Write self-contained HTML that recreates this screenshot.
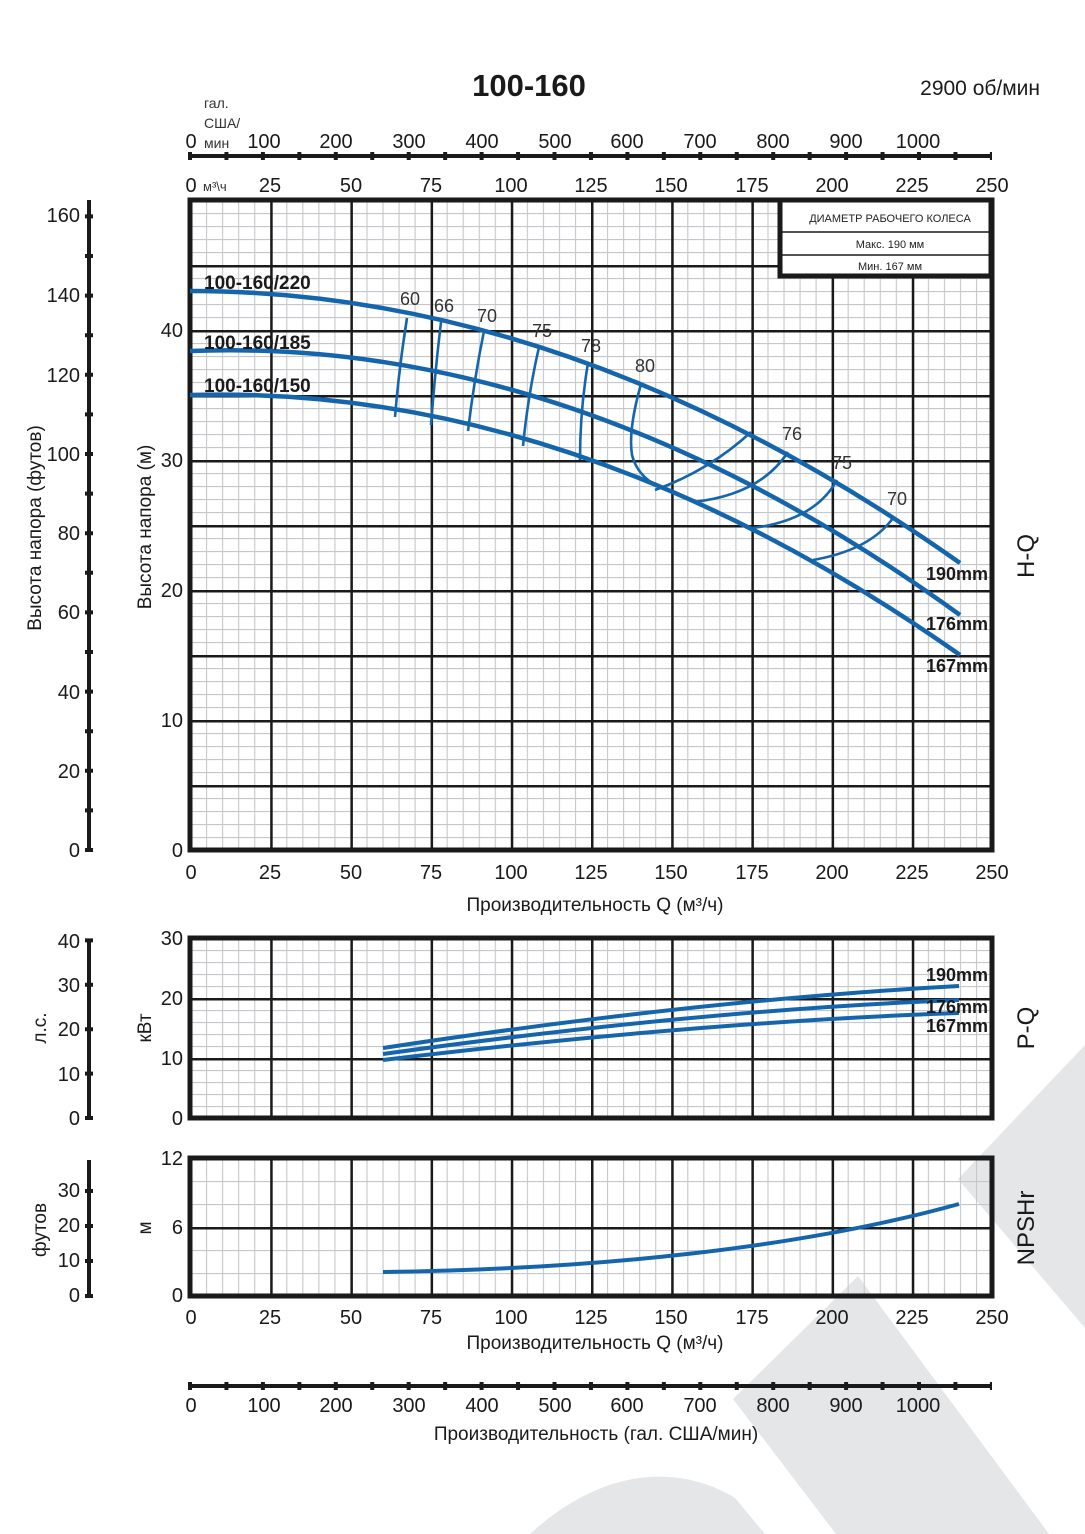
<!DOCTYPE html>
<html><head><meta charset="utf-8"><style>
html,body{margin:0;padding:0;background:#fff;}
svg{display:block;font-family:"Liberation Sans",sans-serif;}
</style></head><body>
<svg width="1085" height="1534" viewBox="0 0 1085 1534" xmlns="http://www.w3.org/2000/svg">
<defs>
<pattern id="thinA" patternUnits="userSpaceOnUse" x="190" y="200" width="16.04" height="13"><path d="M0 0V13M0 0H16.04" stroke="#c6c7cb" stroke-width="2.2" fill="none"/></pattern>
<pattern id="thickA" patternUnits="userSpaceOnUse" x="190" y="200" width="80.2" height="65"><path d="M0 0V65M0 0H80.2" stroke="#1a1a1a" stroke-width="5" fill="none"/></pattern>
<pattern id="thinB" patternUnits="userSpaceOnUse" x="190" y="938" width="16.04" height="12"><path d="M0 0V12M0 0H16.04" stroke="#c6c7cb" stroke-width="2.2" fill="none"/></pattern>
<pattern id="thickB" patternUnits="userSpaceOnUse" x="190" y="938" width="80.2" height="60"><path d="M0 0V60M0 0H80.2" stroke="#1a1a1a" stroke-width="5" fill="none"/></pattern>
<pattern id="thinC" patternUnits="userSpaceOnUse" x="190" y="1158" width="16.04" height="23"><path d="M0 0V23M0 0H16.04" stroke="#c6c7cb" stroke-width="2.2" fill="none"/></pattern>
<pattern id="thickC" patternUnits="userSpaceOnUse" x="190" y="1158" width="80.2" height="69"><path d="M0 0V69M0 0H80.2" stroke="#1a1a1a" stroke-width="5" fill="none"/></pattern>
</defs>

<!-- watermark -->
<g fill="#e5e6e8">
<polygon points="1085,1045 958,1179 1085,1328"/>
<polygon points="858,1276 733,1399 836,1534 1049,1534"/>
<path d="M530,1534 C600,1470 675,1462 735,1498 L765,1534 Z"/>
</g>

<!-- titles -->
<text x="529" y="96" font-size="31" font-weight="bold" text-anchor="middle" fill="#1a1a1a">100-160</text>
<text x="1040" y="95" font-size="21" text-anchor="end" fill="#1a1a1a">2900 об/мин</text>

<!-- top gal axis -->
<g fill="#333" font-size="14"><text x="204" y="108">гал.</text><text x="204" y="128">США/</text><text x="204" y="148">мин</text></g>
<line x1="188" y1="156" x2="992" y2="156" stroke="#1a1a1a" stroke-width="4"/>
<line x1="188" y1="156" x2="992" y2="156" stroke="#1a1a1a" stroke-width="8" stroke-dasharray="4 32.45"/>
<g font-size="20" fill="#1a1a1a" text-anchor="middle">
<text x="191" y="148">0</text><text x="264" y="148">100</text><text x="336" y="148">200</text><text x="409" y="148">300</text><text x="482" y="148">400</text><text x="555" y="148">500</text><text x="627" y="148">600</text><text x="700" y="148">700</text><text x="773" y="148">800</text><text x="846" y="148">900</text><text x="918" y="148">1000</text>
</g>
<g font-size="20" fill="#1a1a1a" text-anchor="middle">
<text x="191" y="192">0</text><text x="270" y="192">25</text><text x="351" y="192">50</text><text x="431" y="192">75</text><text x="511" y="192">100</text><text x="591" y="192">125</text><text x="671" y="192">150</text><text x="752" y="192">175</text><text x="832" y="192">200</text><text x="912" y="192">225</text><text x="992" y="192">250</text>
</g>
<text x="203" y="191" font-size="13" fill="#333">м³\ч</text>

<!-- main chart grid -->
<rect x="190" y="200" width="802" height="650" fill="url(#thinA)"/>
<rect x="190" y="200" width="802" height="650" fill="url(#thickA)"/>
<rect x="190" y="200" width="802" height="650" fill="none" stroke="#1a1a1a" stroke-width="5"/>

<!-- legend box -->
<rect x="780" y="200" width="211" height="76" fill="#fff" stroke="#1a1a1a" stroke-width="5"/>
<line x1="782" y1="232" x2="989" y2="232" stroke="#1a1a1a" stroke-width="1.5"/>
<line x1="782" y1="255" x2="989" y2="255" stroke="#1a1a1a" stroke-width="1.5"/>
<g font-size="11" fill="#222" text-anchor="middle">
<text x="890" y="222">ДИАМЕТР РАБОЧЕГО КОЛЕСА</text>
<text x="890" y="248">Макс. 190 мм</text>
<text x="890" y="270">Мин. 167 мм</text>
</g>

<!-- left feet axis -->
<line x1="89" y1="200" x2="89" y2="852" stroke="#1a1a1a" stroke-width="4"/>
<line x1="89" y1="852" x2="89" y2="200" stroke="#1a1a1a" stroke-width="8" stroke-dasharray="4 35.6"/>
<g font-size="20" fill="#1a1a1a" text-anchor="end">
<text x="80" y="857">0</text><text x="80" y="778">20</text><text x="80" y="699">40</text><text x="80" y="619">60</text><text x="80" y="540">80</text><text x="80" y="461">100</text><text x="80" y="382">120</text><text x="80" y="302">140</text><text x="80" y="222">160</text>
</g>
<text transform="translate(41,528) rotate(-90)" font-size="19" fill="#1a1a1a" text-anchor="middle">Высота напора (футов)</text>
<g font-size="20" fill="#1a1a1a" text-anchor="end">
<text x="183" y="857">0</text><text x="183" y="727">10</text><text x="183" y="597">20</text><text x="183" y="467">30</text><text x="183" y="337">40</text>
</g>
<text transform="translate(151,527) rotate(-90)" font-size="19" fill="#1a1a1a" text-anchor="middle">Высота напора (м)</text>
<g font-size="20" fill="#1a1a1a" text-anchor="middle">
<text x="191" y="879">0</text><text x="270" y="879">25</text><text x="351" y="879">50</text><text x="431" y="879">75</text><text x="511" y="879">100</text><text x="591" y="879">125</text><text x="671" y="879">150</text><text x="752" y="879">175</text><text x="832" y="879">200</text><text x="912" y="879">225</text><text x="992" y="879">250</text>
</g>
<text x="595" y="911" font-size="19" fill="#1a1a1a" text-anchor="middle">Производительность Q (м³/ч)</text>
<text transform="translate(1034,556) rotate(-90)" font-size="24" fill="#1a1a1a" text-anchor="middle">H-Q</text>

<!-- efficiency lines -->
<g stroke="#1565ad" stroke-width="2.6" fill="none">
<path d="M407,318 Q399,368 395,417"/>
<path d="M441,322 Q435,372 431,425"/>
<path d="M484,331 Q474,380 468,431"/>
<path d="M539,347 Q528,395 523,446"/>
<path d="M588,363 Q580,410 580,460"/>
<path d="M641,384 Q628,430 632,455 Q638,478 662,488"/>
<path d="M655,490 Q710,470 751,432"/>
<path d="M693,502 Q760,495 788,452"/>
<path d="M753,528 Q815,520 837,480"/>
<path d="M813,560 Q870,550 893,518"/>
</g>
<g font-size="18" fill="#333" text-anchor="middle">
<text x="410" y="305">60</text><text x="444" y="312">66</text><text x="487" y="322">70</text><text x="542" y="337">75</text><text x="591" y="352">78</text><text x="645" y="372">80</text>
<text x="792" y="440">76</text><text x="842" y="469">75</text><text x="897" y="505">70</text>
</g>
<!-- H-Q curves -->
<g stroke="#1565ad" stroke-width="4.5" fill="none">
<path d="M190,291 Q575,291 960,563"/>
<path d="M190,351 Q575,336 960,615"/>
<path d="M190,395 Q575,384 960,655"/>
</g>
<g font-size="19" font-weight="bold" fill="#1a1a1a">
<text x="204" y="289">100-160/220</text>
<text x="204" y="349">100-160/185</text>
<text x="204" y="392">100-160/150</text>
</g>
<g font-size="18" font-weight="bold" fill="#1a1a1a" text-anchor="end">
<text x="988" y="580">190mm</text><text x="988" y="630">176mm</text><text x="988" y="672">167mm</text>
</g>

<!-- P-Q chart -->
<rect x="190" y="938" width="802" height="180" fill="url(#thinB)"/>
<rect x="190" y="938" width="802" height="180" fill="url(#thickB)"/>
<rect x="190" y="938" width="802" height="180" fill="none" stroke="#1a1a1a" stroke-width="5"/>
<g font-size="20" fill="#1a1a1a" text-anchor="end">
<text x="183" y="1125">0</text><text x="183" y="1065">10</text><text x="183" y="1005">20</text><text x="183" y="945">30</text>
</g>
<text transform="translate(151,1028) rotate(-90)" font-size="19" fill="#1a1a1a" text-anchor="middle">кВт</text>
<line x1="89" y1="940" x2="89" y2="1119" stroke="#1a1a1a" stroke-width="4"/>
<line x1="89" y1="1120" x2="89" y2="938" stroke="#1a1a1a" stroke-width="8" stroke-dasharray="4 40.4"/>
<g font-size="20" fill="#1a1a1a" text-anchor="end">
<text x="80" y="1125">0</text><text x="80" y="1081">10</text><text x="80" y="1036">20</text><text x="80" y="992">30</text><text x="80" y="948">40</text>
</g>
<text transform="translate(46,1028) rotate(-90)" font-size="19" fill="#1a1a1a" text-anchor="middle">л.с.</text>
<g stroke="#1565ad" stroke-width="4" fill="none">
<path d="M383,1048 Q700,1000 959,986"/>
<path d="M383,1054 Q700,1010 959,1000"/>
<path d="M383,1060 Q700,1022 959,1013"/>
</g>
<g font-size="18" font-weight="bold" fill="#1a1a1a" text-anchor="end">
<text x="988" y="981">190mm</text><text x="988" y="1013">176mm</text><text x="988" y="1032">167mm</text>
</g>
<text transform="translate(1034,1028) rotate(-90)" font-size="24" fill="#1a1a1a" text-anchor="middle">P-Q</text>

<!-- NPSH chart -->
<rect x="190" y="1158" width="802" height="138" fill="url(#thinC)"/>
<rect x="190" y="1158" width="802" height="138" fill="url(#thickC)"/>
<rect x="190" y="1158" width="802" height="138" fill="none" stroke="#1a1a1a" stroke-width="5"/>
<g font-size="20" fill="#1a1a1a" text-anchor="end">
<text x="183" y="1302">0</text><text x="183" y="1234">6</text><text x="183" y="1165">12</text>
</g>
<text transform="translate(151,1228) rotate(-90)" font-size="19" fill="#1a1a1a" text-anchor="middle">м</text>
<line x1="89" y1="1160" x2="89" y2="1297" stroke="#1a1a1a" stroke-width="4"/>
<line x1="89" y1="1298" x2="89" y2="1170" stroke="#1a1a1a" stroke-width="8" stroke-dasharray="4 31"/>
<g font-size="20" fill="#1a1a1a" text-anchor="end">
<text x="80" y="1302">0</text><text x="80" y="1267">10</text><text x="80" y="1232">20</text><text x="80" y="1197">30</text>
</g>
<text transform="translate(46,1230) rotate(-90)" font-size="19" fill="#1a1a1a" text-anchor="middle">футов</text>
<path d="M383,1272 C600,1269 800,1248 959,1204" stroke="#1565ad" stroke-width="4" fill="none"/>
<text transform="translate(1034,1228) rotate(-90)" font-size="24" fill="#1a1a1a" text-anchor="middle">NPSHr</text>
<g font-size="20" fill="#1a1a1a" text-anchor="middle">
<text x="191" y="1324">0</text><text x="270" y="1324">25</text><text x="351" y="1324">50</text><text x="431" y="1324">75</text><text x="511" y="1324">100</text><text x="591" y="1324">125</text><text x="671" y="1324">150</text><text x="752" y="1324">175</text><text x="832" y="1324">200</text><text x="912" y="1324">225</text><text x="992" y="1324">250</text>
</g>
<text x="595" y="1349" font-size="19" fill="#1a1a1a" text-anchor="middle">Производительность Q (м³/ч)</text>

<!-- bottom gal axis -->
<line x1="188" y1="1386" x2="992" y2="1386" stroke="#1a1a1a" stroke-width="4"/>
<line x1="188" y1="1386" x2="992" y2="1386" stroke="#1a1a1a" stroke-width="8" stroke-dasharray="4 32.45"/>
<g font-size="20" fill="#1a1a1a" text-anchor="middle">
<text x="191" y="1412">0</text><text x="264" y="1412">100</text><text x="336" y="1412">200</text><text x="409" y="1412">300</text><text x="482" y="1412">400</text><text x="555" y="1412">500</text><text x="627" y="1412">600</text><text x="700" y="1412">700</text><text x="773" y="1412">800</text><text x="846" y="1412">900</text><text x="918" y="1412">1000</text>
</g>
<text x="596" y="1440" font-size="19" fill="#1a1a1a" text-anchor="middle">Производительность (гал. США/мин)</text>
</svg>
</body></html>
